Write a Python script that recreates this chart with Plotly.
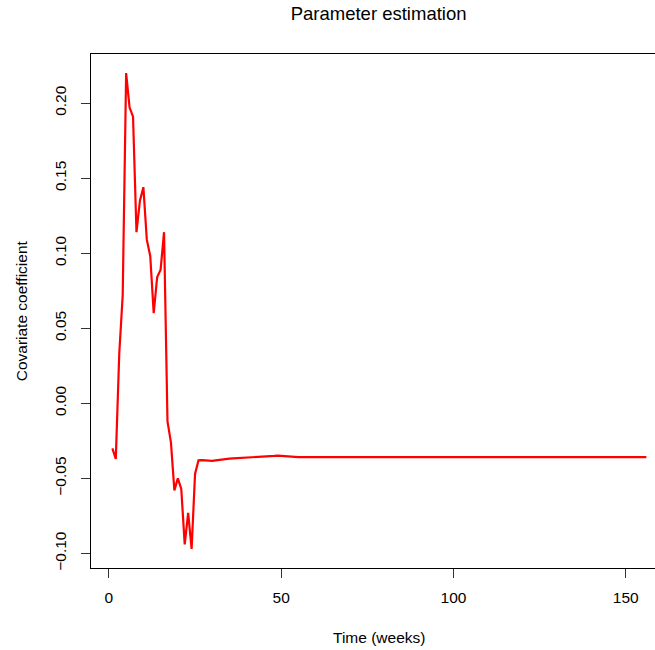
import plotly.graph_objects as go

# Weekly estimates of the covariate coefficient
weeks = list(range(1, 157))

coef_early = [
    -0.030, -0.037, 0.033, 0.072, 0.220, 0.197, 0.191, 0.114, 0.135, 0.144,
    0.109, 0.098, 0.060, 0.084, 0.089, 0.114, -0.012, -0.026, -0.058, -0.050,
    -0.057, -0.094, -0.073, -0.097, -0.047, -0.0380,
]
coef_settling = [
    -0.0378, -0.0380, -0.0382, -0.0383, -0.0380, -0.0376, -0.0373, -0.0371,
    -0.0369, -0.0367, -0.0366, -0.0364, -0.0363, -0.0362, -0.0361, -0.0360,
    -0.0358, -0.0357, -0.0356, -0.0355, -0.0353, -0.0350, -0.0348, -0.0350,
    -0.0355, -0.0358,
]
coef_stable = [
    -0.0359, -0.0359, -0.0359, -0.0359, -0.0359, -0.0359, -0.0359, -0.0359, -0.0358, -0.0358, -0.0358, -0.0358, -0.0358,
    -0.0358, -0.0358, -0.0358, -0.0358, -0.0358, -0.0358, -0.0358, -0.0358, -0.0358, -0.0358, -0.0358, -0.0358, -0.0358,
    -0.0358, -0.0358, -0.0358, -0.0358, -0.0358, -0.0358, -0.0358, -0.0358, -0.0358, -0.0358, -0.0358, -0.0358, -0.0358,
    -0.0358, -0.0358, -0.0358, -0.0358, -0.0358, -0.0358, -0.0358, -0.0358, -0.0358, -0.0358, -0.0358, -0.0358, -0.0358,
    -0.0358, -0.0358, -0.0358, -0.0358, -0.0358, -0.0358, -0.0358, -0.0358, -0.0358, -0.0358, -0.0358, -0.0358, -0.0358,
    -0.0358, -0.0358, -0.0358, -0.0358, -0.0358, -0.0358, -0.0358, -0.0358, -0.0358, -0.0358, -0.0358, -0.0358, -0.0358,
    -0.0358, -0.0358, -0.0358, -0.0358, -0.0358, -0.0358, -0.0358, -0.0358, -0.0358, -0.0358, -0.0358, -0.0358, -0.0358,
    -0.0358, -0.0358, -0.0358, -0.0358, -0.0358, -0.0358, -0.0358, -0.0358, -0.0358, -0.0358, -0.0358, -0.0358, -0.0358,
]
coefficient = coef_early + coef_settling + coef_stable

x_ticks = [0, 50, 100, 150]
y_ticks = [-0.10, -0.05, 0.00, 0.05, 0.10, 0.15, 0.20]
y_tick_text = ["\u22120.10", "\u22120.05", "0.00", "0.05", "0.10", "0.15", "0.20"]

FONT = "Liberation Sans, Arial, Helvetica, sans-serif"

fig = go.Figure()
fig.add_trace(go.Scatter(
    x=weeks, y=coefficient, mode="lines",
    line=dict(color="#ff0000", width=2.2),
    hoverinfo="skip", showlegend=False,
))

W, H = 655, 650
left, top, bottom = 90.7, 54.2, 82.1

fig.update_layout(
    width=W, height=H,
    margin=dict(l=left, r=0, t=top, b=bottom, pad=0),
    paper_bgcolor="white", plot_bgcolor="white",
    font=dict(family=FONT, size=16, color="#000000"),
    title=dict(
        text="Parameter estimation",
        font=dict(family=FONT, size=18.5, color="#000000"),
        x=378.6 / W, xref="container", xanchor="center",
        y=1 - 13.5 / H, yref="container", yanchor="middle",
    ),
)

fig.update_xaxes(
    range=[-5.2, 158.5], tickvals=x_ticks, ticktext=[str(v) for v in x_ticks],
    showgrid=False, zeroline=False,
    showline=True, linecolor="#000000", linewidth=1.2, mirror=True,
    ticks="outside", ticklen=9, tickwidth=1, tickcolor="#333333",
    tickfont=dict(size=15.5), ticklabelstandoff=6,
)
fig.update_yaxes(
    range=[-0.1097, 0.2327], tickvals=y_ticks, ticktext=y_tick_text,
    showgrid=False, zeroline=False,
    showline=True, linecolor="#000000", linewidth=1.2,
    ticks="outside", ticklen=9, tickwidth=1, tickcolor="#333333",
    tickangle=-90, tickfont=dict(size=15.5), ticklabelstandoff=9,
)

fig.add_annotation(
    text="Time (weeks)", xref="paper", yref="paper",
    x=(378.6 - left) / (W - left), y=0, yshift=-(637 - (H - bottom)),
    xanchor="center", yanchor="middle", showarrow=False,
    font=dict(family=FONT, size=15.5, color="#000000"),
)
fig.add_annotation(
    text="Covariate coefficient", xref="paper", yref="paper",
    x=0, xshift=-(left - 21), y=0.5,
    xanchor="center", yanchor="middle", textangle=-90, showarrow=False,
    font=dict(family=FONT, size=15.5, color="#000000"),
)

fig.write_html("out.html")
